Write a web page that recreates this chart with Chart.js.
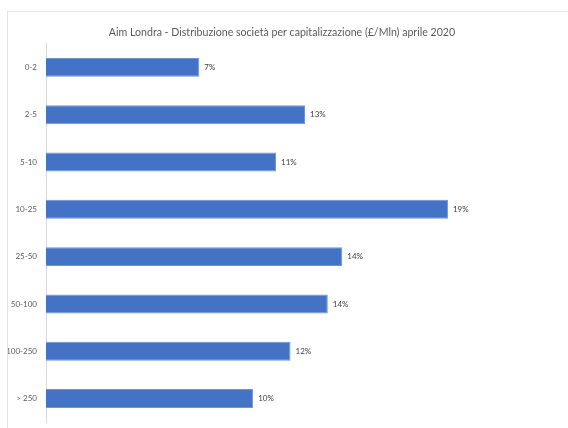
<!DOCTYPE html>
<html>
<head>
<meta charset="utf-8">
<script src="https://cdn.jsdelivr.net/npm/chart.js@4"></script>
<style>
    html, body { margin: 0; padding: 0; background: #fff; overflow: hidden; }
    #wrap { position: relative; width: 568px; height: 428px; }
    #chart { display: block; }
    #frame {
        position: absolute; left: 7px; top: 11px; width: 600px; height: 450px;
        border-left: 1px solid #e3e3e3; border-top: 1px solid #e3e3e3;
        pointer-events: none;
    }
</style>
</head>
<body>
<div id="wrap">
    <canvas id="chart" width="568" height="428"></canvas>
    <div id="frame"></div>
</div>
<script>
// Classi di capitalizzazione (£/Mln) e quota di società (%)
const categories = ['0-2', '2-5', '5-10', '10-25', '25-50', '50-100', '100-250', '> 250'];
const shares = [7.4, 12.5, 11.1, 19.4, 14.3, 13.6, 11.8, 10.0];

// Percent labels at the end of each bar
const barLabels = {
    id: 'barLabels',
    afterDatasetsDraw(chart) {
        const ctx = chart.ctx;
        const meta = chart.getDatasetMeta(0);
        ctx.save();
        ctx.font = '8px Lato, sans-serif';
        ctx.fillStyle = '#404040';
        ctx.textAlign = 'left';
        ctx.textBaseline = 'middle';
        meta.data.forEach((bar, i) => {
            ctx.fillText(Math.round(shares[i]) + '%', bar.x + 5, bar.y);
        });
        ctx.restore();
    }
};

new Chart(document.getElementById('chart').getContext('2d'), {
    type: 'bar',
    data: {
        labels: categories,
        datasets: [{
            data: shares,
            backgroundColor: '#4472C4',
            borderColor: '#6f93d3',
            borderWidth: 1,
            categoryPercentage: 1,
            barPercentage: 0.4
        }]
    },
    options: {
        indexAxis: 'y',
        responsive: false,
        animation: false,
        layout: {
            padding: { top: 0, right: 4, bottom: -14, left: 0 }
        },
        plugins: {
            legend: { display: false },
            tooltip: { enabled: false },
            title: {
                display: true,
                text: 'Aim Londra - Distribuzione società per capitalizzazione (£/Mln) aprile 2020',
                color: '#595959',
                font: { family: 'Lato, sans-serif', size: 10.6, weight: 'normal' },
                padding: { top: 26, bottom: 5 }
            }
        },
        scales: {
            x: {
                display: false,
                min: 0,
                max: 25
            },
            y: {
                grid: { display: false },
                border: { display: true, color: '#d9d9d9' },
                ticks: {
                    color: '#595959',
                    font: { family: 'Lato, sans-serif', size: 8 },
                    padding: 1
                },
                afterFit(axis) {
                    axis.width = 46;
                }
            }
        }
    },
    plugins: [barLabels]
});
</script>
</body>
</html>
